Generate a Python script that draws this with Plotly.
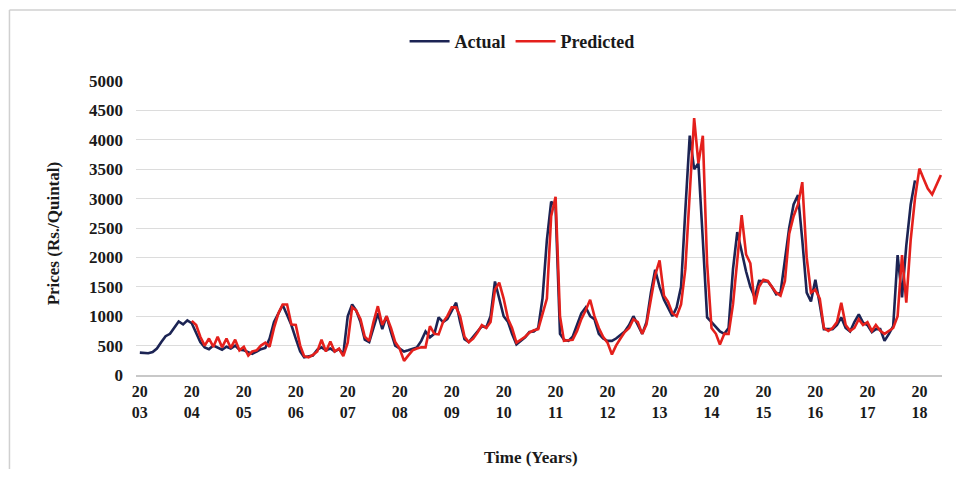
import plotly.graph_objects as go
import pandas as pd

# ---------------- data (monthly) ----------------
actual_start = "2003-01-01"
actual = [
    380, 370, 370, 390, 450, 560, 660, 700, 810, 910, 860, 930,          # 2003
    880, 700, 560, 470, 440, 500, 470, 430, 480, 450, 500, 430,          # 2004
    420, 390, 360, 400, 440, 460, 620, 900, 1050, 1190, 1020, 850,       # 2005
    620, 400, 300, 310, 330, 430, 470, 420, 450, 400, 440, 350,          # 2006
    1000, 1200, 1100, 900, 600, 560, 800, 1050, 780, 1000, 730, 500,     # 2007
    450, 400, 420, 450, 470, 580, 740, 640, 700, 980, 900, 950,          # 2008
    1100, 1230, 900, 610, 560, 650, 740, 830, 810, 1000, 1590, 1300,     # 2009
    1000, 900, 700, 520, 580, 640, 730, 740, 800, 1300, 2300, 2950,      # 2010
    2850, 700, 600, 580, 650, 850, 1050, 1150, 1000, 950, 700, 620,      # 2011
    580, 580, 620, 680, 740, 850, 1000, 850, 700, 900, 1400, 1790,       # 2012
    1500, 1280, 1150, 1000, 1150, 1500, 2800, 4070, 3500, 3600, 2300, 980,  # 2013
    900, 810, 740, 700, 800, 1800, 2430, 2100, 1760, 1500, 1320, 1600,   # 2014
    1600, 1590, 1500, 1370, 1400, 2000, 2500, 2900, 3060, 2300, 1400, 1250,  # 2015
    1620, 1200, 780, 780, 780, 850, 980, 800, 740, 900, 1030, 890,       # 2016
    850, 730, 780, 780, 580, 700, 830, 2040, 1320, 2200, 2900, 3310,     # 2017
]

predicted_start = "2004-01-01"
predicted = [
    920, 850, 650, 500, 620, 480, 650, 470, 620, 460, 600, 420,          # 2004
    480, 330, 400, 420, 500, 550, 480, 800, 1050, 1200, 1200, 860,       # 2005
    850, 500, 320, 300, 340, 400, 600, 400, 570, 400, 450, 320,          # 2006
    550, 1150, 1100, 950, 650, 580, 900, 1170, 850, 1000, 800, 560,      # 2007
    450, 240, 330, 420, 450, 470, 470, 830, 700, 690, 900, 1000,         # 2008
    1150, 1150, 1000, 650, 560, 620, 720, 850, 800, 900, 1450, 1570,     # 2009
    1300, 950, 800, 550, 600, 650, 720, 760, 780, 1050, 1300, 2700,      # 2010
    3030, 1000, 580, 590, 600, 750, 950, 1100, 1280, 1000, 800, 650,     # 2011
    550, 350, 500, 620, 730, 800, 950, 900, 700, 860, 1300, 1700,        # 2012
    1950, 1350, 1250, 1050, 1000, 1200, 1800, 3200, 4370, 3600, 4070, 1900,  # 2013
    800, 700, 520, 700, 700, 1200, 2000, 2720, 2050, 1900, 1200, 1500,   # 2014
    1620, 1600, 1500, 1400, 1350, 1600, 2400, 2700, 2900, 3280, 2000, 1400,  # 2015
    1450, 1300, 800, 750, 800, 900, 1230, 850, 750, 800, 950, 850,       # 2016
    900, 750, 850, 750, 700, 750, 800, 1000, 2040, 1230, 2300, 3000,     # 2017
    3510, 3330, 3170, 3070, 3230, 3400,                                  # 2018
]

tick_years = list(range(2003, 2019))
y_ticks = list(range(0, 5001, 500))

# ---------------- styling ----------------
NAVY = "#1C2454"
RED = "#E4201C"
FONT = "Liberation Serif"
TXT = "#1a1a1a"

actual_dates = pd.date_range(actual_start, periods=len(actual), freq="MS")
predicted_dates = pd.date_range(predicted_start, periods=len(predicted), freq="MS")

fig = go.Figure()
fig.add_trace(go.Scatter(x=actual_dates, y=actual, mode="lines", name="Actual",
                         line=dict(color=NAVY, width=2.6)))
fig.add_trace(go.Scatter(x=predicted_dates, y=predicted, mode="lines", name="Predicted",
                         line=dict(color=RED, width=2.6)))

# page body has an 8px default margin, so the figure is sized/offset to compensate
fig.update_layout(
    width=948, height=461,
    margin=dict(l=128, r=14, t=73, b=94, autoexpand=False),
    paper_bgcolor="white", plot_bgcolor="white",
    font=dict(family=FONT, size=17, color=TXT),
    showlegend=True,
    legend=dict(orientation="h", x=0.479, xanchor="center", y=1.134, yanchor="middle",
                font=dict(family=FONT, size=18, weight="bold", color=TXT),
                bgcolor="rgba(0,0,0,0)", itemwidth=40, tracegroupgap=0),
    xaxis=dict(
        type="date",
        range=["2002-12-05", "2018-06-09"],
        tickvals=[f"{y}-01-01" for y in tick_years],
        ticktext=[f"{str(y)[:2]}<br>{str(y)[2:]}" for y in tick_years],
        tickangle=0,
        tickfont=dict(family=FONT, size=16, weight="bold", color=TXT),
        showgrid=False, zeroline=False,
        showline=True, linecolor="#C8C8C8", linewidth=2,
        ticks="", ticklabelstandoff=1,
    ),
    yaxis=dict(
        range=[0, 5000],
        tickvals=y_ticks,
        tickfont=dict(family=FONT, size=17, weight="bold", color=TXT),
        showgrid=True, gridcolor="#DCDCDC", gridwidth=1,
        zeroline=False, showline=False,
        ticks="", ticklabelstandoff=12,
    ),
    annotations=[
        dict(text="Prices (Rs./Quintal)", xref="paper", yref="paper",
             x=-0.102, y=0.481, textangle=-90, showarrow=False,
             xanchor="center", yanchor="middle",
             font=dict(family=FONT, size=17, weight="bold", color=TXT)),
        dict(text="Time (Years)", xref="paper", yref="paper",
             x=0.49, y=-0.281, showarrow=False, xanchor="center", yanchor="middle",
             font=dict(family=FONT, size=17, weight="bold", color=TXT)),
    ],
    shapes=[
        dict(type="line", xref="paper", yref="paper", x0=-0.157, x1=1.05, y0=1.2415, y1=1.2415,
             line=dict(color="#D0D0D0", width=1.5)),
        dict(type="line", xref="paper", yref="paper", x0=-0.157, x1=-0.157, y0=1.2415, y1=-0.4,
             line=dict(color="#D0D0D0", width=1.5)),
    ],
)

fig.write_html("out.html")
